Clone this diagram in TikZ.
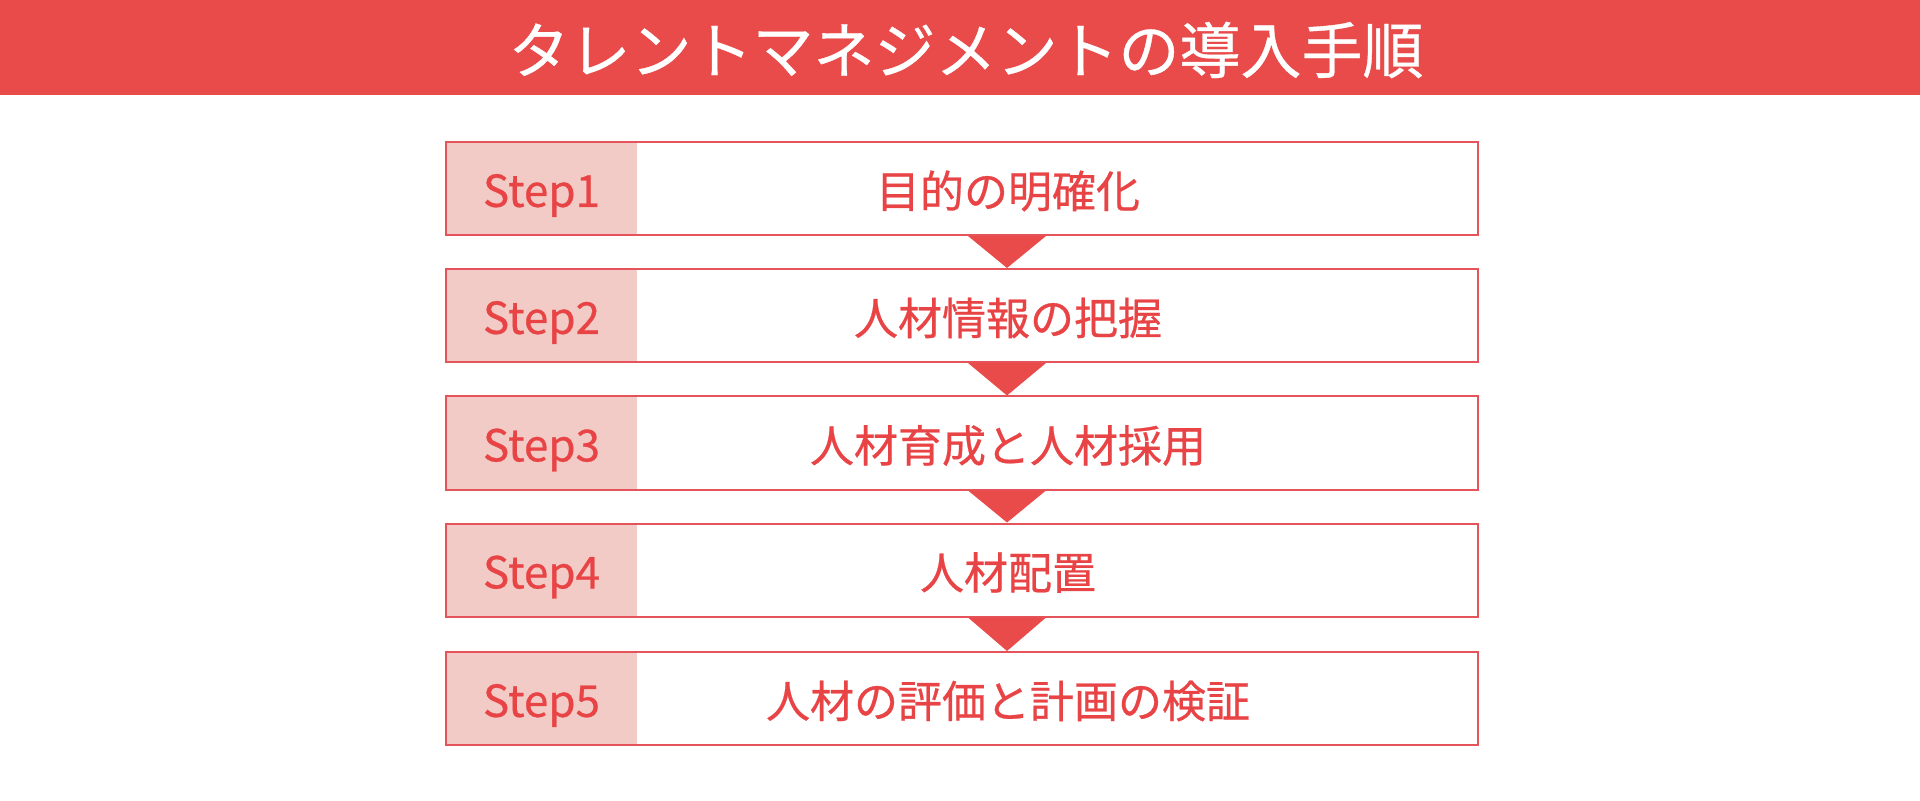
\documentclass[tikz,border=0pt]{standalone}
\usepackage{fontspec}
\setmainfont{Noto Sans CJK JP}
\newfontfamily\medfont{Noto Sans CJK JP}[FakeBold=0.6]
\usetikzlibrary{calc}
\definecolor{hdred}{HTML}{E84B4A}
\definecolor{bdred}{HTML}{E5545A}
\definecolor{lbpink}{HTML}{F2CBC6}
\definecolor{txred}{HTML}{E84446}
\tikzset{
  header/.style={fill=hdred, draw=none, inner sep=0pt, minimum width=960pt, minimum height=47.5pt},
  titletext/.style={text=white, font=\medfont\fontsize{30.5pt}{32pt}\selectfont, inner sep=0pt},
  labelbox/.style={fill=lbpink, draw=none, inner sep=0pt, minimum width=95.5pt, minimum height=46.5pt},
  labeltext/.style={text=txred, font=\medfont\fontsize{22pt}{24pt}\selectfont, inner sep=0pt},
  stepbox/.style={draw=bdred, line width=1pt, fill=none, inner sep=0pt, minimum width=516pt, minimum height=46.5pt},
  steptext/.style={text=txred, font=\medfont\fontsize{22pt}{24pt}\selectfont, inner sep=0pt},
  flowtri/.style={fill=hdred, draw=none}
}
\begin{document}
\begin{tikzpicture}[x=0.5pt,y=-0.5pt]
\useasboundingbox (0,0) rectangle (1920,801);
\node[header] (hd) at (960,47.5) {};
\node[titletext] (title) at (966,50) {タレントマネジメントの導入手順};
\foreach \i/\yc/\t in {1/188.5/目的の明確化,2/315.5/人材情報の把握,3/443/人材育成と人材採用,4/570/人材配置,5/698.5/人材の評価と計画の検証}{
  \node[labelbox] (lab\i) at (541.5,\yc) {};
  \node[labeltext] (lt\i) at (541.5,\yc+7) {Step\i};
  \node[stepbox] (box\i) at (962,\yc) {};
  \node[steptext] (txt\i) at (1008,\yc+2.5) {\t};
}
\foreach \a/\b in {1/2,2/3,3/4,4/5}{
  \coordinate (tl\a) at ($(box\a.south)+(45,0)$);
  \coordinate (tt\a) at ($(box\b.north)+(45,0)$);
  \fill[flowtri] ($(tl\a)+(-39,0)$) -- ($(tl\a)+(39,0)$) -- (tt\a) -- cycle;
}
\end{tikzpicture}
\end{document}
